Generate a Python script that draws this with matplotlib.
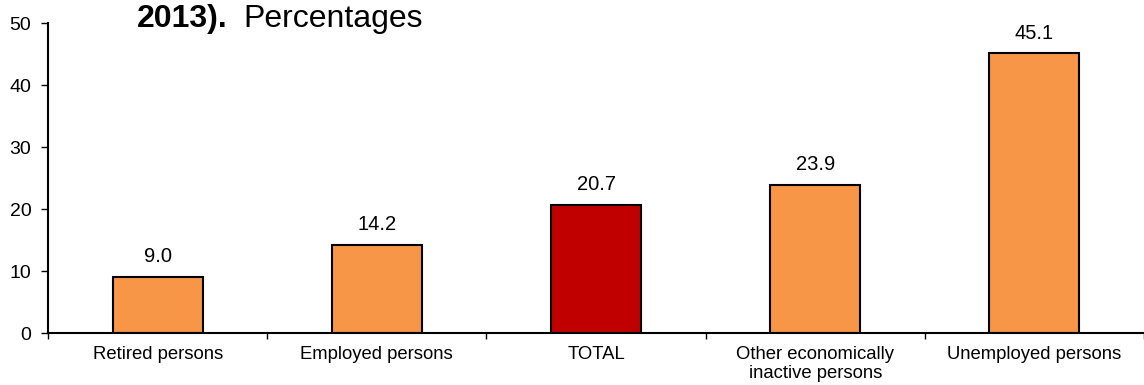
import matplotlib.pyplot as plt
import numpy as np

plt.rcParams['font.family'] = ['Liberation Sans', 'DejaVu Sans']

# data
categories = ['Retired persons', 'Employed persons', 'TOTAL',
              'Other economically\ninactive persons', 'Unemployed persons']
values = [9.0, 14.2, 20.7, 23.9, 45.1]
bar_colors = ['#F79646', '#F79646', '#C00000', '#F79646', '#F79646']

fig = plt.figure(figsize=(11.44, 3.85), dpi=100)
ax = fig.add_axes([0.042, 0.135, 0.958, 0.805])

x = np.arange(len(categories))
ax.bar(x, values, width=0.41, color=bar_colors, edgecolor='black', linewidth=1.5, zorder=2)

for xi, v in zip(x, values):
    ax.text(xi, v + 2.4, f'{v:.1f}', ha='center', va='baseline', fontsize=14.5)

ax.set_xlim(-0.5, len(categories) - 0.5)
ax.set_ylim(0, 50)
ax.set_yticks(range(0, 51, 10))
ax.tick_params(axis='y', labelsize=14, length=5, width=1, direction='out', pad=7)

# category labels under bars, ticks between categories
ax.set_xticks(np.arange(-0.5, len(categories), 1.0))
ax.set_xticklabels([])
ax.tick_params(axis='x', length=4, width=1, direction='out')
for xi, lab in zip(x, categories):
    ax.text(xi, -2.1, lab, ha='center', va='top', fontsize=13.3, linespacing=1.15)

for s in ['top', 'right']:
    ax.spines[s].set_visible(False)
ax.spines['left'].set_linewidth(1.5)
ax.spines['bottom'].set_linewidth(1.5)

# title (cut off at top in the original)
fig.text(137 / 1144, 1 - 27 / 385, '2013).', fontsize=23, fontweight='bold', va='baseline', ha='left')
fig.text(243 / 1144, 1 - 27 / 385, 'Percentages', fontsize=23, va='baseline', ha='left')

fig.savefig('out.png', dpi=100)
